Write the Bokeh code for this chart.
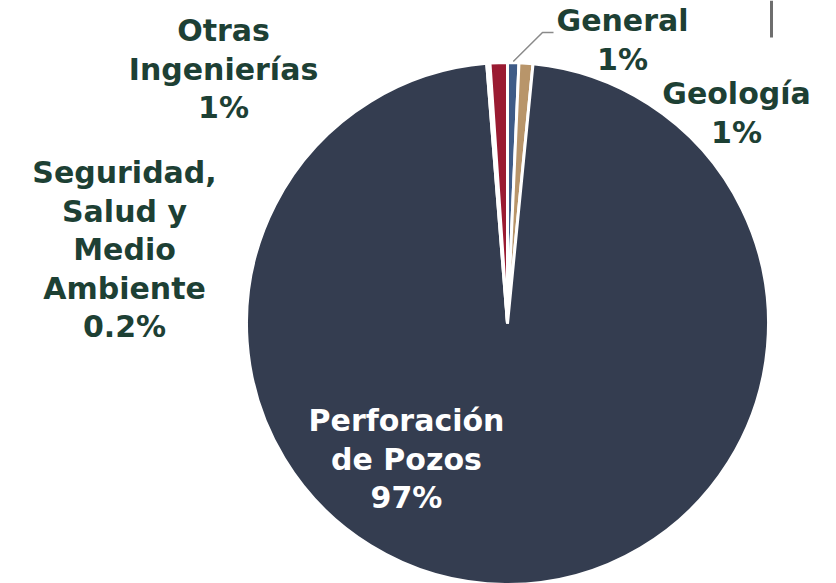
import numpy as np
from bokeh.plotting import figure
from bokeh.models import Range1d
from bokeh.embed import file_html
from bokeh.resources import INLINE
from bokeh.core.properties import value

# ---- data ----
categories = ["General", "Geología", "Perforación de Pozos",
              "Seguridad, Salud y Medio Ambiente", "Otras Ingenierías"]
shares = [0.70, 0.86, 97.17, 0.20, 1.07]
pct_labels = ["1%", "1%", "97%", "0.2%", "1%"]
name_lines = [["General"], ["Geología"], ["Perforación", "de Pozos"],
              ["Seguridad,", "Salud y", "Medio", "Ambiente"], ["Otras", "Ingenierías"]]
colors = ["#3e5b87", "#b8956a", "#343d50", "#ffffff", "#9a1b32"]

# ---- layout ----
W, H = 836, 583
CX, CY, R = 507, 323, 261
label_pos = [(622, 20), (736, 93), (406, 420), (124, 172), (223, 30)]
label_colors = ["#1d4034", "#1d4034", "#ffffff", "#1d4034", "#1d4034"]
LINE_STEP = 38.5
FONT = "DejaVu Sans"
FSIZE = "30px"

def fy(py):
    return H - py

p = figure(width=W, height=H, x_range=Range1d(0, W), y_range=Range1d(0, H),
           output_backend="svg", toolbar_location=None, min_border=0)
p.axis.visible = False
p.grid.visible = False
p.outline_line_color = None
p.background_fill_color = "white"
p.border_fill_color = "white"

frac = np.array(shares) / sum(shares)
cum = np.concatenate([[0.0], np.cumsum(frac)])
start = np.pi / 2 - cum[1:] * 2 * np.pi
end = np.pi / 2 - cum[:-1] * 2 * np.pi
p.wedge(x=CX, y=fy(CY), radius=R, start_angle=start, end_angle=end,
        direction="anticlock", fill_color=colors, line_color="white", line_width=3)

# labels
xs, ys, txt, cols = [], [], [], []
for i in range(len(categories)):
    lines = name_lines[i] + [pct_labels[i]]
    x0, y0 = label_pos[i]
    for j, t in enumerate(lines):
        xs.append(x0)
        ys.append(fy(y0 + j * LINE_STEP))
        txt.append(t)
        cols.append(label_colors[i])
p.text(x=xs, y=ys, text=txt, text_color=cols, text_align="center",
       text_baseline="middle", text_font=value(FONT), text_font_size=FSIZE,
       text_font_style="bold")

# leader line for General
a = (start[0] + end[0]) / 2
sx, sy = CX + (R + 1) * np.cos(a), fy(CY) + (R + 1) * np.sin(a)
p.line(x=[sx, 542, 553], y=[sy, fy(32), fy(32)], line_color="#8a8a8a", line_width=1.5)

# decorative vertical bar top right
p.segment(x0=[771], y0=[fy(0)], x1=[771], y1=[fy(37)], line_color="#6e6e6e", line_width=3)

open("out.html", "w").write(file_html(p, INLINE))
